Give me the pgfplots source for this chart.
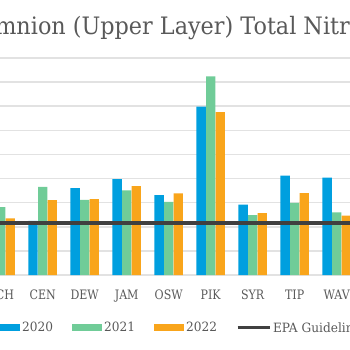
\documentclass[border=0pt]{standalone}
\usepackage{pgfplots}
\pgfplotsset{compat=1.18}
\usepackage{fontspec}
\setmainfont{DejaVu Serif}
\newfontfamily\titlefont{DejaVu Serif}[FakeStretch=0.93]
\newfontfamily\labfont{DejaVu Serif}[FakeStretch=0.85]
\newfontfamily\legfont{DejaVu Serif}[FakeStretch=0.95]
\definecolor{c20}{HTML}{009FDF}
\definecolor{c21}{HTML}{70CC98}
\definecolor{c22}{HTML}{F9A51B}
\definecolor{epa}{HTML}{404040}
\definecolor{txt}{HTML}{595959}
\definecolor{grd}{HTML}{E2E2E2}
\begin{document}
\begin{tikzpicture}[x=1pt,y=1pt]
\useasboundingbox (0,0) rectangle (350,350);
\begin{scope}
\clip (0,0) rectangle (350,350);
\begin{axis}[at={(-20.3pt,75pt)}, anchor=south west, scale only axis,
  width=378pt, height=217pt, xmin=-0.5, xmax=8.5, ymin=0, ymax=9,
  axis line style={draw=none}, tick style={draw=none},
  ytick={0,...,9}, yticklabels={}, ymajorgrids, grid style={grd, line width=1.5pt},
  xtick={0,...,8}, xticklabels={BCH,CEN,DEW,JAM,OSW,PIK,SYR,TIP,WAV},
  xticklabel style={font=\labfont\fontsize{13}{13}\selectfont, text=txt, anchor=base, yshift=-24pt},
  legend columns=4,
  legend style={at={(0.0272,-0.2442)}, anchor=west, draw=none, fill=none, inner sep=0pt,
    font=\legfont\fontsize{12.8}{12.8}\selectfont, text=txt,
    nodes={inner sep=0pt},
    /tikz/every odd column/.append style={column sep=2pt},
    /tikz/every even column/.append style={column sep=19pt}},
]
\addplot[ybar, bar width=9.3pt, bar shift=-9.6pt, fill=c20, draw=none,
  legend image code/.code={\fill[c20] (0pt,-3.5pt) rectangle (30pt,3.5pt);}]
  coordinates {(1,2.25) (2,3.60) (3,3.98) (4,3.31) (5,6.98) (6,2.92) (7,4.12) (8,4.04)};
\addlegendentry{2020}
\addplot[ybar, bar width=9.3pt, bar shift=0pt, fill=c21, draw=none,
  legend image code/.code={\fill[c21] (0pt,-3.5pt) rectangle (30pt,3.5pt);}]
  coordinates {(0,2.81) (1,3.65) (2,3.12) (3,3.51) (4,3.03) (5,8.24) (6,2.48) (7,2.99) (8,2.60)};
\addlegendentry{2021}
\addplot[ybar, bar width=9.3pt, bar shift=9.6pt, fill=c22, draw=none,
  legend image code/.code={\fill[c22] (0pt,-3.5pt) rectangle (30pt,3.5pt);}]
  coordinates {(0,2.35) (1,3.11) (2,3.15) (3,3.69) (4,3.39) (5,6.76) (6,2.57) (7,3.40) (8,2.46)};
\addlegendentry{2022}
\addplot[epa, line width=4pt, mark=none,
  legend image code/.code={\draw[epa, line width=3pt] (0pt,0pt) -- (32pt,0pt);}]
  coordinates {(-0.5,2.14) (8.5,2.14)};
\addlegendentry{EPA Guideline}
\end{axis}
\end{scope}
\node[anchor=base east, inner sep=0pt, text=txt, font=\titlefont\fontsize{24}{24}\selectfont]
  at (233.5,315.7) {Epilimnion (Upper Layer)\rlap{\ Total Nitrogen}};
\end{tikzpicture}
\end{document}
